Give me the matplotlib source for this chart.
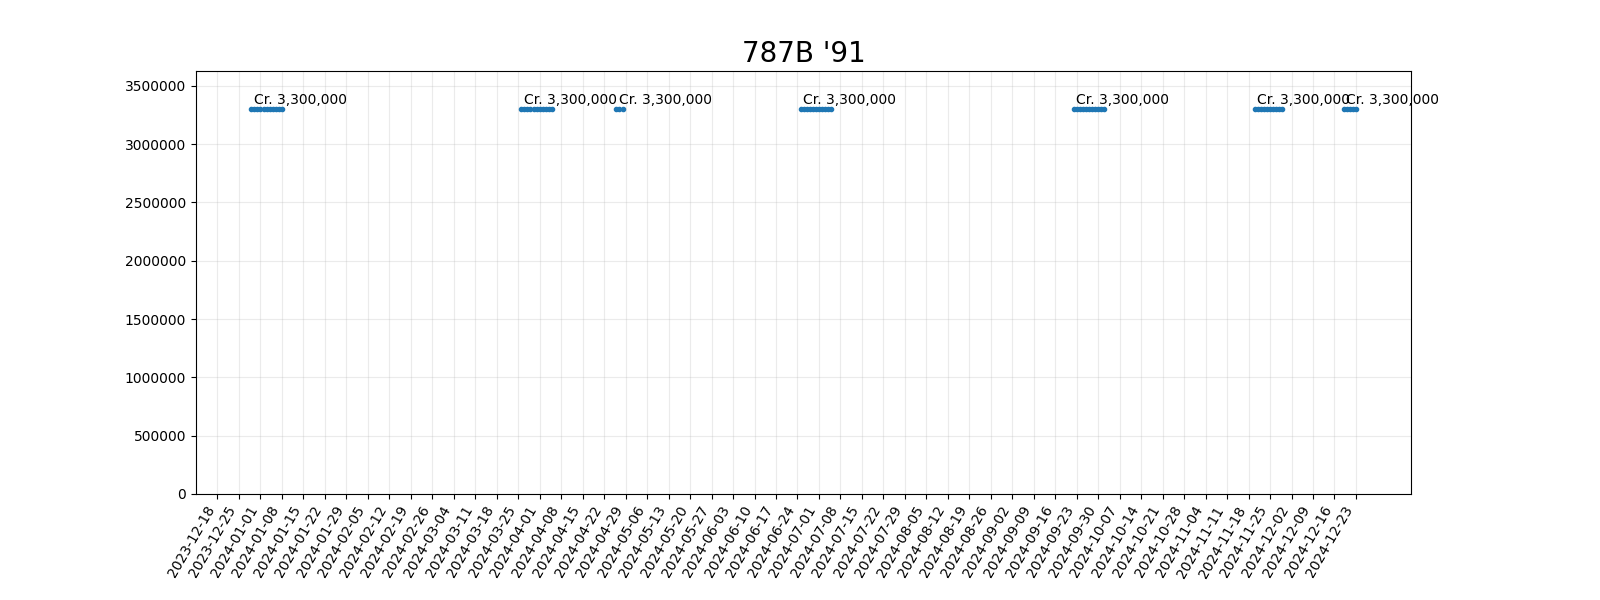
import datetime as dt

import matplotlib
matplotlib.use("Agg")
import matplotlib.pyplot as plt
import matplotlib.dates as mdates

title = "787B '91"
price = 3300000
# (start, end) of each listing run, daily points
run_starts = ["2023-12-29", "2024-03-26", "2024-04-26", "2024-06-25",
              "2024-09-22", "2024-11-20", "2024-12-19"]
run_ends = ["2024-01-08", "2024-04-05", "2024-04-28", "2024-07-05",
            "2024-10-02", "2024-11-29", "2024-12-23"]

fig, ax = plt.subplots(figsize=(16, 6), dpi=100)

for s, e in zip(run_starts, run_ends):
    d0 = dt.date.fromisoformat(s)
    d1 = dt.date.fromisoformat(e)
    days = [d0 + dt.timedelta(days=i) for i in range((d1 - d0).days + 1)]
    ax.plot(days, [price] * len(days), "o-", color="#1f77b4", markersize=3, lw=2)
    ax.annotate(f"Cr. {price:,}", (days[0], price), xytext=(2, 4),
                textcoords="offset points", fontsize=10)

ax.set_title(title, fontsize=20)
ax.set_ylim(0, 3630000)
ax.set_xlim(dt.date(2023, 12, 11), dt.date(2025, 1, 10))
weeks = [dt.date(2023, 12, 18) + dt.timedelta(weeks=i) for i in range(54)]
ax.set_xticks(weeks)
ax.xaxis.set_major_formatter(mdates.DateFormatter("%Y-%m-%d"))
ax.ticklabel_format(axis="y", style="plain")
plt.setp(ax.get_xticklabels(), rotation=60, ha="right")
ax.grid(True, alpha=0.25)

plt.subplots_adjust(left=0.1225, right=0.882, top=0.882, bottom=0.177)
plt.savefig("out.png", dpi=100)
